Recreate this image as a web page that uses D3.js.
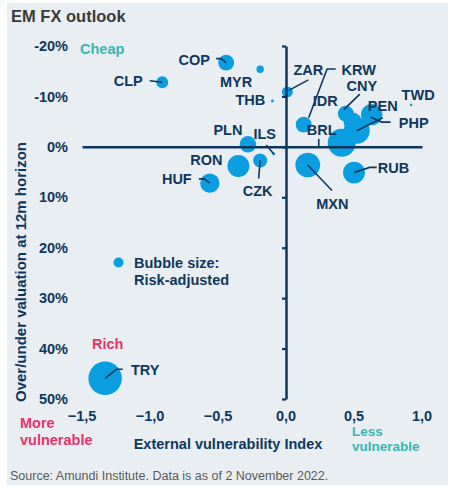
<!DOCTYPE html>
<html>
<head>
<meta charset="utf-8">
<script src="https://cdn.jsdelivr.net/npm/d3@7/dist/d3.min.js"></script>
<style>
  html, body { margin: 0; padding: 0; background: #ffffff; }
  svg { display: block; font-family: "Liberation Sans", Arial, sans-serif; }
</style>
</head>
<body>
<svg id="chart" width="450" height="492"></svg>
<script>
// ---- Data ----
const currencies = ["COP","CLP","MYR","THB","ZAR","KRW","CNY","TWD","IDR","PEN","PHP","BRL","PLN","ILS","RON","CZK","HUF","MXN","RUB","TRY"];
// External vulnerability index (x)
const vulnerability = [-0.44,-0.91,-0.19,-0.10,0.01,0.13,0.44,0.92,0.49,0.52,0.63,0.41,-0.28,-0.09,-0.35,-0.19,-0.56,0.16,0.50,-1.33];
// Over/under valuation at 12m horizon, % (y)
const valuation = [-16.7,-12.8,-15.4,-9.1,-10.9,-4.4,-6.6,-8.3,-5.0,-3.2,-6.4,-0.8,-0.5,1.4,3.8,2.7,7.2,3.6,5.1,45.9];
// Risk-adjusted bubble size (relative)
const riskSize = [23,13,5,0.8,11,23,23,0.6,30,62,42,72,25,0.8,44,18,34,56,44,103];

const xTicks = [-1.5,-1.0,-0.5,0.0,0.5,1.0];
const yTicks = [-20,-10,0,10,20,30,40,50];

// ---- Label layout (pixel offsets from bubble centre; leader polylines) ----
const labelLayout = {
  COP: {dx:-32, dy:-3,  lead:[[-10,-4],[-5,-4],[0,0]]},
  CLP: {dx:-34, dy:-1,  lead:[[-12.5,-1.5],[0,0]]},
  MYR: {dx:-24, dy:12.5},
  THB: {dx:-22, dy:-1.5},
  ZAR: {dx:21,  dy:-22, lead:[[21,-12],[1.5,-1.5]]},
  KRW: {dx:55,  dy:-55, lead:[[32,-55.7],[23.4,-55.7],[5,-7]]},
  CNY: {dx:16,  dy:-27.5, lead:[[14,-19.5],[-2,-4]]},
  TWD: {dx:7,   dy:-10},
  IDR: {dx:-27.5, dy:-21},
  PEN: {dx:26,  dy:-25, lead:[[26,-13],[0,0]]},
  PHP: {dx:42,  dy:8,   lead:[[19,7.5],[10,7.5],[-1,2.5]]},
  BRL: {dx:-20, dy:-13, lead:[[-23,-4],[-23,4]]},
  PLN: {dx:-20, dy:-14.5},
  ILS: {dx:-9,  dy:-20, lead:[[-7.5,-9],[0,0]]},
  RON: {dx:-32, dy:-6},
  CZK: {dx:-2.5,dy:30,  lead:[[-1.5,18],[0,0]]},
  HUF: {dx:-33, dy:-4,  lead:[[-11,-4.3],[-5.5,-4.3],[0,0]]},
  MXN: {dx:24.5,dy:38.5,lead:[[0,0],[24.2,25.5]]},
  RUB: {dx:39.5,dy:-4.5,lead:[[22.7,-5.2],[15.7,-5.2],[0,0]]},
  TRY: {dx:40,  dy:-8.5,lead:[[17.6,-9],[11.3,-9],[0,0]]}
};

const data = currencies.map((c,i)=>({code:c, x:vulnerability[i], y:valuation[i], s:riskSize[i]}));

// ---- Styles ----
const NAVY = "#0f375e";
const BUBBLE = "#0a9ee0";
const TEAL = "#3ab5b2";
const PINK = "#e5336b";
const FS = 14.5;

const svg = d3.select("#chart");

// panel background
svg.append("rect").attr("x",7).attr("y",3).attr("width",441).attr("height",482).attr("fill","#e9eef2");

// title
svg.append("text").attr("x",11).attr("y",22).attr("font-size",16.5).attr("font-weight","bold")
  .attr("fill","#3a3a3a").text("EM FX outlook");

// scales
const x = d3.scaleLinear().domain([-1.5,1.0]).range([82,422]);
const y = d3.scaleLinear().domain([-20,50]).range([46,399]);
const r = d3.scaleSqrt().domain([0,100]).range([0,16.5]);

// bubbles
svg.append("g").selectAll("circle").data(data).join("circle")
  .attr("cx",d=>x(d.x)).attr("cy",d=>y(d.y)).attr("r",d=>Math.max(1.3,r(d.s)))
  .attr("fill",BUBBLE);

// horizontal axis at y = 0
const xAxisG = svg.append("g").attr("transform",`translate(0,${y(0)})`)
  .call(d3.axisBottom(x).tickValues([]).tickSize(0).tickSizeOuter(0));
xAxisG.select(".domain").attr("stroke",NAVY).attr("stroke-width",2.5);

// vertical axis at x = 0
const yAxisG = svg.append("g").attr("transform",`translate(${x(0)},0)`)
  .call(d3.axisLeft(y).tickValues(yTicks).tickSize(4).tickSizeOuter(0).tickFormat(""));
yAxisG.select(".domain").attr("stroke",NAVY).attr("stroke-width",2.5);
yAxisG.selectAll(".tick line").attr("stroke",NAVY).attr("stroke-width",2.2);

// y tick labels on the left
const yFmt = v => v + "%";
svg.append("g").selectAll("text").data(yTicks).join("text")
  .attr("x",68).attr("y",v=>y(v)).attr("dy","0.35em").attr("text-anchor","end")
  .attr("font-size",FS).attr("font-weight","bold").attr("fill",NAVY).text(yFmt);

// x tick labels at the bottom
const xFmt = v => d3.format(".1f")(v).replace(".",",");
svg.append("g").selectAll("text").data(xTicks).join("text")
  .attr("x",v=>x(v)).attr("y",416).attr("dy","0.35em").attr("text-anchor","middle")
  .attr("font-size",FS).attr("font-weight","bold").attr("fill",NAVY).text(xFmt);

// axis titles
svg.append("text").attr("x",228).attr("y",444).attr("dy","0.35em").attr("text-anchor","middle")
  .attr("font-size",FS).attr("font-weight","bold").attr("fill",NAVY).text("External vulnerability Index");
svg.append("text").attr("transform","translate(21,272) rotate(-90)").attr("dy","0.35em").attr("text-anchor","middle")
  .attr("font-size",15).attr("font-weight","bold").attr("fill",NAVY).text("Over/under valuation at 12m horizon");

// corner annotations
svg.append("text").attr("x",80).attr("y",49).attr("dy","0.35em").attr("font-size",FS).attr("font-weight","bold").attr("fill",TEAL).text("Cheap");
svg.append("text").attr("x",92).attr("y",344).attr("dy","0.35em").attr("font-size",FS).attr("font-weight","bold").attr("fill",PINK).text("Rich");
svg.append("text").attr("x",20).attr("y",423).attr("dy","0.35em").attr("font-size",FS).attr("font-weight","bold").attr("fill",PINK).text("More");
svg.append("text").attr("x",20).attr("y",440).attr("dy","0.35em").attr("font-size",FS).attr("font-weight","bold").attr("fill",PINK).text("vulnerable");
svg.append("text").attr("x",352).attr("y",431).attr("dy","0.35em").attr("font-size",13.5).attr("font-weight","bold").attr("fill",TEAL).text("Less");
svg.append("text").attr("x",352).attr("y",446).attr("dy","0.35em").attr("font-size",13.5).attr("font-weight","bold").attr("fill",TEAL).text("vulnerable");

// legend
svg.append("circle").attr("cx",118.5).attr("cy",262.5).attr("r",5).attr("fill",BUBBLE);
svg.append("text").attr("x",134).attr("y",262.5).attr("dy","0.35em").attr("font-size",FS).attr("font-weight","bold").attr("fill",NAVY).text("Bubble size:");
svg.append("text").attr("x",134).attr("y",280).attr("dy","0.35em").attr("font-size",FS).attr("font-weight","bold").attr("fill",NAVY).text("Risk-adjusted");

// leaders
const line = d3.line();
const lg = svg.append("g");
data.forEach(d=>{
  const L = labelLayout[d.code];
  const cx = x(d.x), cy = y(d.y);
  if (L.lead) {
    lg.append("path").attr("d", line(L.lead.map(p=>[cx+p[0], cy+p[1]])))
      .attr("fill","none").attr("stroke",NAVY).attr("stroke-width",1.6);
  }
});
// labels
svg.append("g").selectAll("text").data(data).join("text")
  .attr("x",d=>x(d.x)+labelLayout[d.code].dx).attr("y",d=>y(d.y)+labelLayout[d.code].dy)
  .attr("dy","0.35em").attr("text-anchor","middle")
  .attr("font-size",FS).attr("font-weight","bold").attr("fill",NAVY).text(d=>d.code);

// source
svg.append("text").attr("x",10).attr("y",476).attr("dy","0.35em").attr("font-size",12.5)
  .attr("fill","#5a5a5a").text("Source: Amundi Institute. Data is as of 2 November 2022.");
</script>
</body>
</html>
